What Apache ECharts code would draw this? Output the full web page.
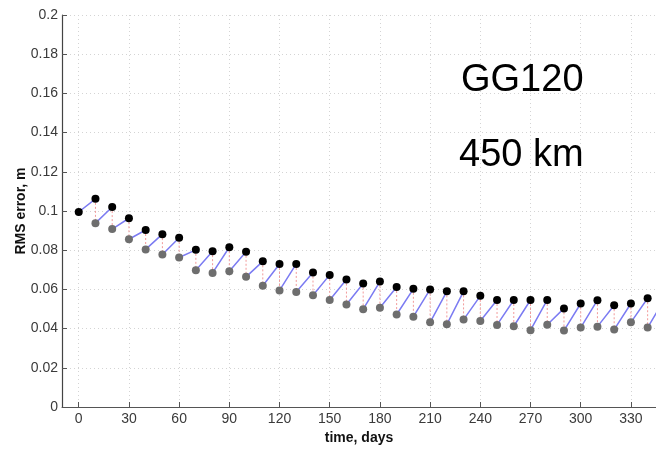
<!DOCTYPE html>
<html>
<head>
<meta charset="utf-8">
<script src="https://cdn.jsdelivr.net/npm/echarts@6/dist/echarts.min.js"></script>
<style>
html, body { margin: 0; padding: 0; background: #fff; }
#chart { width: 656px; height: 450px; }
</style>
</head>
<body>
<div id="chart"></div>
<script>
// epochs every 10 days
const days = [0, 10, 20, 30, 40, 50, 60, 70, 80, 90, 100, 110, 120, 130, 140, 150, 160, 170,
  180, 190, 200, 210, 220, 230, 240, 250, 260, 270, 280, 290, 300, 310, 320, 330, 340, 350];
// RMS error before update (black dots)
const before = [0.0995, 0.1062, 0.1020, 0.0963, 0.0903, 0.0882, 0.0864, 0.0802, 0.0795, 0.0815,
  0.0792, 0.0743, 0.0730, 0.0730, 0.0686, 0.0674, 0.0650, 0.0630, 0.0640, 0.0612, 0.0603, 0.0600,
  0.0590, 0.0590, 0.0567, 0.0546, 0.0546, 0.0546, 0.0546, 0.0503, 0.0528, 0.0545, 0.0519, 0.0528,
  0.0555, 0.0550];
// RMS error after update (grey dots), none at day 0
const after = [null, 0.0938, 0.0908, 0.0856, 0.0804, 0.0778, 0.0763, 0.0698, 0.0684, 0.0693,
  0.0664, 0.0619, 0.0595, 0.0587, 0.0570, 0.0546, 0.0523, 0.0499, 0.0506, 0.0472, 0.0461, 0.0432,
  0.0422, 0.0446, 0.0439, 0.0419, 0.0412, 0.0392, 0.0420, 0.0390, 0.0405, 0.0410, 0.0395, 0.0432,
  0.0405, null];
const xTicks = [0, 30, 60, 90, 120, 150, 180, 210, 240, 270, 300, 330];

const blackPts = days.map((d, i) => [d, before[i]]);
const greyPts = [];
const bluePts = [];
const redPts = [];
for (let i = 0; i < days.length; i++) {
  if (after[i] != null) {
    greyPts.push([days[i], after[i]]);
    redPts.push([days[i], before[i]], [days[i], after[i]], [days[i], '-']);
  }
  if (i + 1 < days.length) {
    const startY = after[i] != null ? after[i] : before[i];
    bluePts.push([days[i], startY], [days[i + 1], before[i + 1]], [days[i + 1], '-']);
  }
}

const chart = echarts.init(document.getElementById('chart'));
chart.setOption({
  animation: false,
  grid: { left: 62, top: 15, right: 0, bottom: 38 },
  xAxis: {
    type: 'value',
    min: -10,
    max: 345,
    name: 'time, days',
    nameLocation: 'middle',
    nameGap: 24,
    nameMoveOverlap: false,
    nameTextStyle: { fontFamily: 'Liberation Sans', fontWeight: 'bold', fontSize: 14, color: '#111' },
    axisLine: { show: true, onZero: false, lineStyle: { color: '#555', width: 1 } },
    axisTick: { inside: true, length: 5, customValues: xTicks, lineStyle: { color: '#555' } },
    axisLabel: { customValues: xTicks, margin: 5, fontFamily: 'Liberation Sans', fontSize: 14, color: '#3a3a3a' },
    splitLine: { show: true, lineStyle: { color: '#d4d4d4', type: [1, 3] } }
  },
  yAxis: {
    type: 'value',
    position: 'left',
    min: 0,
    max: 0.2,
    interval: 0.02,
    name: 'RMS error, m',
    nameLocation: 'middle',
    nameGap: 34,
    nameMoveOverlap: false,
    nameTextStyle: { fontFamily: 'Liberation Sans', fontWeight: 'bold', fontSize: 14, color: '#111' },
    axisLine: { show: true, onZero: false, lineStyle: { color: '#444', width: 1.2 } },
    axisTick: { show: true, inside: true, length: 5, lineStyle: { color: '#555' } },
    axisLabel: { margin: 4, fontFamily: 'Liberation Sans', fontSize: 14, color: '#3a3a3a' },
    splitLine: { show: true, lineStyle: { color: '#d4d4d4', type: [1, 3] } }
  },
  graphic: [
    { type: 'text', z: 100, left: 461, top: 62, style: { text: 'GG120', font: '38px "Liberation Sans"', fill: '#000' } },
    { type: 'text', z: 100, left: 459, top: 137, style: { text: '450 km', font: '38px "Liberation Sans"', fill: '#000' } }
  ],
  series: [
    {
      type: 'line', data: redPts, symbol: 'none', connectNulls: false,
      lineStyle: { color: '#f29a9a', width: 1, type: [2, 2] }, z: 2
    },
    {
      type: 'line', data: bluePts, symbol: 'none', connectNulls: false,
      lineStyle: { color: '#7b7bf2', width: 1.5 }, z: 3
    },
    {
      type: 'scatter', data: greyPts, symbol: 'circle', symbolSize: 8,
      itemStyle: { color: '#6e6e6e', opacity: 1 }, z: 4
    },
    {
      type: 'scatter', data: blackPts, symbol: 'circle', symbolSize: 8,
      itemStyle: { color: '#000', opacity: 1 }, z: 5
    }
  ]
});
</script>
</body>
</html>
